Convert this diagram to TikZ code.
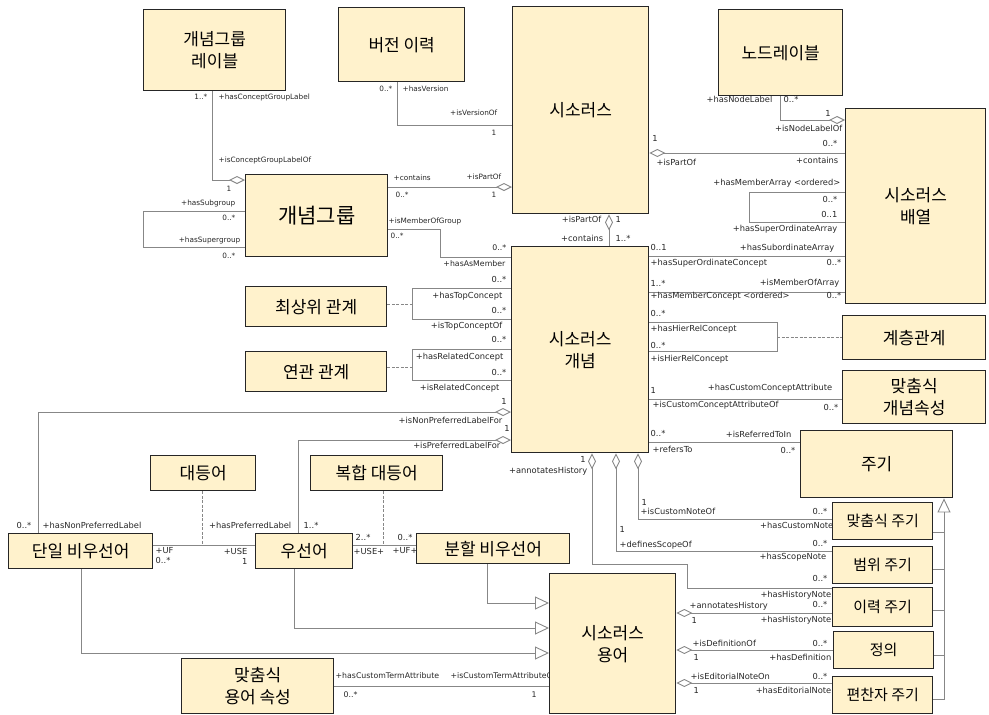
\documentclass[tikz,border=0pt]{standalone}
\usepackage{fontspec}
\usetikzlibrary{arrows.meta,backgrounds}
\newfontfamily\kr{Noto Sans CJK KR}
\newfontfamily\lf{DejaVu Sans}
\definecolor{boxc}{RGB}{255,242,204}
\definecolor{linec}{RGB}{135,135,135}
\newcounter{lbc}
\def\lsz{7.3}
\newcommand\lb[4]{\stepcounter{lbc}\node[lbl,anchor=#1] (lb\arabic{lbc}) at (#2,#3) {#4};}
\newcommand\bx[7][17]{\node[box,font=\kr\fontsize{#1}{22}\selectfont,minimum width={#5-#3},minimum height={#6-#4},anchor=north west] (#2) at (#3,#4) {#7};}
\tikzset{
  odia/.tip={Diamond[open,length=16pt,width=8pt]},
  otri/.tip={Triangle[open,length=14pt,width=13pt]},
  box/.style={draw=black!85,line width=1.4pt,fill=boxc,align=center,inner sep=0pt},
  conn/.style={draw=linec,line width=0.9pt},
  dsh/.style={draw=linec,line width=0.8pt,dash pattern=on 3pt off 1.5pt},
  lbl/.style={font=\lf\fontsize{\lsz}{9}\selectfont,inner sep=0.5pt,text=black!85}
}
\begin{document}
\begin{tikzpicture}[x=1pt,y=-1pt]
\useasboundingbox (0,0) rectangle (989,715);
% boxes
\bx{cgl}{143}{9}{285}{90}{개념그룹\\레이블}
\bx{ver}{338}{7}{464}{81}{버전 이력}
\bx{th}{512}{6}{648}{213}{시소러스}
\bx{nl}{718}{9}{842}{95}{노드레이블}
\bx{arr}{845}{108}{985}{303}{시소러스\\배열}
\bx[21]{cg}{245}{174}{387}{256}{개념그룹}
\bx{con}{511}{246}{648}{452}{시소러스\\개념}
\bx{top}{245}{286}{386}{326}{최상위 관계}
\bx{rel}{245}{351}{386}{391}{연관 관계}
\bx{hier}{842}{315}{985}{359}{계층관계}
\bx{cca}{842}{370}{985}{423}{맞춤식\\개념속성}
\bx{note}{800}{430}{952}{497}{주기}
\bx[15]{cn}{832}{502}{932}{539}{맞춤식 주기}
\bx[15]{sn}{832}{546}{932}{583}{범위 주기}
\bx[15]{hn}{832}{587}{932}{626}{이력 주기}
\bx[15]{def}{833}{631}{933}{668}{정의}
\bx[15]{en}{832}{676}{932}{713}{편찬자 주기}
\bx{eq}{150}{455}{255}{490}{대등어}
\bx{ceq}{310}{455}{442}{490}{복합 대등어}
\bx{snp}{8}{533}{152}{568}{단일 비우선어}
\bx{pt}{255}{533}{352}{568}{우선어}
\bx{snpt}{416}{533}{569}{563}{분할 비우선어}
\bx{term}{549}{573}{675}{713}{시소러스\\용어}
\bx{cta}{181}{658}{333}{713}{맞춤식\\용어 속성}
\begin{pgfonlayer}{background}
% connectors
\draw[conn,-odia] (212,0 |- cgl.south) |- (cg.west |- 0,180);
\draw[conn] (cg.west |- 0,211) -- (143,211) -- (143,247) -- (cg.west |- 0,247);
\draw[conn] (397,0 |- ver.south) |- (th.west |- 0,125);
\draw[conn,-odia] (cg.east |- 0,187) -- (th.west |- 0,187);
\draw[conn] (cg.east |- 0,229) -| (440,257) -- (con.west |- 0,257);
\draw[conn,-odia] (780,0 |- nl.south) |- (arr.west |- 0,120);
\draw[conn,odia-] (th.east |- 0,153) -- (arr.west |- 0,153);
\draw[conn] (arr.west |- 0,192) -| (749,222) -- (arr.west |- 0,222);
\draw[conn,odia-] (609,0 |- th.south) -- (609,0 |- con.north);
\draw[conn] (con.east |- 0,256) -- (arr.west |- 0,256);
\draw[conn] (con.east |- 0,292) -- (arr.west |- 0,292);
\draw[conn] (con.east |- 0,322) -| (777,351) -- (con.east |- 0,351);
\coordinate (hl) at (777,337);
\draw[dsh] (hl) -- (hier.west |- hl);
\draw[conn] (con.west |- 0,288) -| (412,319) -- (con.west |- 0,319);
\coordinate (tl) at (412,304);
\draw[dsh] (top.east |- tl) -- (tl);
\draw[conn] (con.west |- 0,349) -| (412,380) -- (con.west |- 0,380);
\coordinate (rl) at (412,367);
\draw[dsh] (rel.east |- rl) -- (rl);
\draw[conn] (con.east |- 0,399) -- (cca.west |- 0,399);
\draw[conn] (con.east |- 0,442) -- (note.west |- 0,442);
\draw[conn,odia-] (592,0 |- con.south) |- (687,564) |- (hn.west |- 0,588);
\draw[conn,odia-] (616,0 |- con.south) |- (sn.west |- 0,551);
\draw[conn,odia-] (638,0 |- con.south) |- (cn.west |- 0,519);
\draw[conn,-odia] (38,0 |- snp.north) |- (con.west |- 0,412);
\draw[conn,-odia] (298,0 |- pt.north) |- (con.west |- 0,440);
\coordinate (ul) at (202,545);
\coordinate (ur) at (383,545);
\draw[conn] (snp.east |- ul) -- (pt.west |- ul);
\draw[dsh] (202,0 |- eq.south) -- (ul);
\draw[conn] (pt.east |- ur) -- (snpt.west |- ur);
\draw[dsh] (383,0 |- ceq.south) -- (ur);
\draw[conn] (cta.east |- 0,686) -- (term.west |- 0,686);
\draw[conn,-otri] (487,0 |- snpt.south) |- (term.west |- 0,603);
\draw[conn,-otri] (294,0 |- pt.south) |- (term.west |- 0,628);
\draw[conn,-otri] (81,0 |- snp.south) |- (term.west |- 0,653);
\draw[conn,odia-] (term.east |- 0,613) -- (hn.west |- 0,613);
\draw[conn,odia-] (term.east |- 0,650) -- (def.west |- 0,650);
\draw[conn,odia-] (term.east |- 0,683) -- (en.west |- 0,683);
\draw[conn,-otri] (en.east |- 0,699) -| (944,0 |- note.south);
\draw[conn] (cn.east |- 0,532) -- (944,532);
\draw[conn] (sn.east |- 0,569) -- (944,569);
\draw[conn] (hn.east |- 0,610) -- (944,610);
\draw[conn] (def.east |- 0,655) -- (944,655);
% labels, top left (small)
\def\lsz{7.3}
\lb{east}{208}{97}{1..*}
\lb{west}{218}{97}{+hasConceptGroupLabel}
\lb{west}{218}{160}{+isConceptGroupLabelOf}
\lb{center}{229}{189}{1}
\lb{east}{236}{203}{+hasSubgroup}
\lb{east}{236}{218}{0..*}
\lb{east}{241}{240}{+hasSupergroup}
\lb{east}{236}{256}{0..*}
\lb{east}{393}{89}{0..*}
\lb{west}{402}{89}{+hasVersion}
\lb{east}{498}{113}{+isVersionOf}
\lb{center}{494}{133}{1}
\lb{west}{393}{178}{+contains}
\lb{west}{395}{195}{0..*}
\lb{east}{502}{177}{+isPartOf}
\lb{center}{494}{195}{1}
\lb{west}{388}{221}{+isMemberOfGroup}
\lb{west}{390}{236}{0..*}
\def\lsz{7.8}
\lb{east}{507}{248}{0..*}
\lb{east}{506}{264}{+hasAsMember}
\lb{west}{335}{676}{+hasCustomTermAttribute}
\lb{west}{450}{676}{+isCustomTermAttributeOf}
\lb{west}{343}{695}{0..*}
\lb{center}{534}{695}{1}
% labels, larger
\def\lsz{8.3}
\lb{east}{773}{99}{+hasNodeLabel}
\lb{west}{783}{99}{0..*}
\lb{center}{828}{113}{1}
\lb{east}{843}{128}{+isNodeLabelOf}
\lb{center}{655}{138}{1}
\lb{west}{656}{162}{+isPartOf}
\lb{east}{838}{143}{0..*}
\lb{east}{839}{160}{+contains}
\lb{east}{841}{183}{+hasMemberArray <ordered>}
\lb{east}{838}{199}{0..*}
\lb{east}{838}{214}{0..1}
\lb{east}{838}{229}{+hasSuperOrdinateArray}
\lb{east}{602}{219}{+isPartOf}
\lb{west}{615}{219}{1}
\lb{east}{604}{238}{+contains}
\lb{west}{615}{238}{1..*}
\lb{west}{650}{247}{0..1}
\lb{east}{835}{248}{+hasSubordinateArray}
\lb{west}{650}{263}{+hasSuperOrdinateConcept}
\lb{east}{842}{262}{0..*}
\lb{west}{650}{283}{1..*}
\lb{east}{840}{283}{+isMemberOfArray}
\lb{west}{650}{296}{+hasMemberConcept <ordered>}
\lb{east}{842}{295}{0..*}
\lb{west}{650}{313}{0..*}
\lb{west}{650}{329}{+hasHierRelConcept}
\lb{west}{650}{345}{0..*}
\lb{west}{650}{359}{+isHierRelConcept}
\lb{west}{650}{390}{1}
\lb{east}{833}{388}{+hasCustomConceptAttribute}
\lb{west}{652}{405}{+isCustomConceptAttributeOf}
\lb{east}{839}{407}{0..*}
\lb{west}{650}{433}{0..*}
\lb{east}{792}{434}{+isReferredToIn}
\lb{west}{652}{449}{+refersTo}
\lb{east}{796}{450}{0..*}
\lb{east}{507}{279}{0..*}
\lb{east}{503}{296}{+hasTopConcept}
\lb{east}{507}{310}{0..*}
\lb{east}{503}{326}{+isTopConceptOf}
\lb{east}{507}{339}{0..*}
\lb{east}{504}{357}{+hasRelatedConcept}
\lb{east}{507}{372}{0..*}
\lb{east}{500}{388}{+isRelatedConcept}
\lb{center}{504}{401}{1}
\lb{east}{503}{420}{+isNonPreferredLabelFor}
\lb{center}{507}{428}{1}
\lb{east}{501}{445}{+isPreferredLabelFor}
\lb{center}{583}{459}{1}
\lb{east}{588}{471}{+annotatesHistory}
\lb{west}{641}{502}{1}
\lb{west}{640}{511}{+isCustomNoteOf}
\lb{east}{828}{511}{0..*}
\lb{east}{834}{525}{+hasCustomNote}
\lb{west}{619}{529}{1}
\lb{west}{619}{545}{+definesScopeOf}
\lb{east}{828}{543}{0..*}
\lb{east}{827}{557}{+hasScopeNote}
\lb{east}{828}{578}{0..*}
\lb{east}{832}{595}{+hasHistoryNote}
\lb{west}{689}{606}{+annotatesHistory}
\lb{east}{828}{604}{0..*}
\lb{west}{691}{620}{1}
\lb{east}{832}{620}{+hasHistoryNote}
\lb{west}{692}{643}{+isDefinitionOf}
\lb{east}{828}{643}{0..*}
\lb{west}{693}{657}{1}
\lb{east}{832}{657}{+hasDefinition}
\lb{west}{690}{676}{+isEditorialNoteOn}
\lb{east}{828}{676}{0..*}
\lb{west}{693}{690}{1}
\lb{east}{832}{690}{+hasEditorialNote}
\lb{east}{32}{525}{0..*}
\lb{west}{42}{525}{+hasNonPreferredLabel}
\lb{east}{292}{525}{+hasPreferredLabel}
\lb{west}{303}{525}{1..*}
\lb{west}{355}{537}{2..*}
\lb{west}{397}{537}{0..*}
\lb{west}{155}{551}{+UF}
\lb{west}{155}{560}{0..*}
\lb{east}{248}{551}{+USE}
\lb{east}{248}{561}{1}
\lb{west}{353}{551}{+USE+}
\lb{west}{392}{551}{+UF+}
\end{pgfonlayer}
\end{tikzpicture}
\end{document}
